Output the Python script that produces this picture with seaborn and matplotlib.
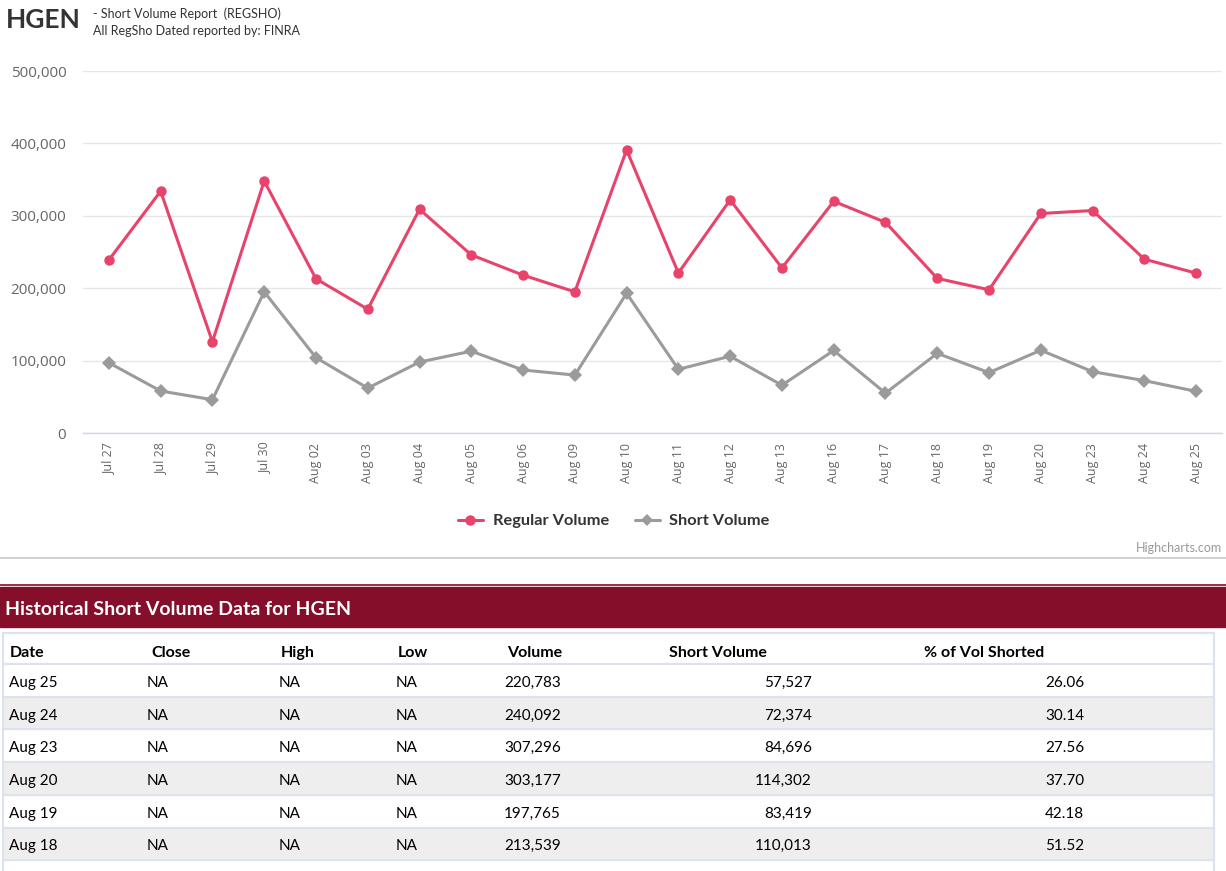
import numpy as np
import pandas as pd
import matplotlib
matplotlib.use("Agg")
import matplotlib.pyplot as plt
import seaborn as sns
from matplotlib.patches import Rectangle
from matplotlib.lines import Line2D

# =========================
# Datos
# =========================
dates = ["Jul 27", "Jul 28", "Jul 29", "Jul 30", "Aug 02", "Aug 03", "Aug 04",
         "Aug 05", "Aug 06", "Aug 09", "Aug 10", "Aug 11", "Aug 12", "Aug 13",
         "Aug 16", "Aug 17", "Aug 18", "Aug 19", "Aug 20", "Aug 23", "Aug 24",
         "Aug 25"]
regular_volume = [239000, 334000, 126000, 348000, 213000, 171000, 309000,
                  246000, 218000, 195000, 391000, 221000, 322000, 228000,
                  320000, 291000, 213539, 197765, 303177, 307296, 240092,
                  220783]
short_volume = [97000, 58000, 46000, 195000, 104000, 62000, 98000,
                113000, 87000, 80000, 193000, 88000, 106000, 66000,
                114000, 55000, 110013, 83419, 114302, 84696, 72374,
                57527]
y_ticks = [0, 100000, 200000, 300000, 400000, 500000]

table_cols = ["Date", "Close", "High", "Low", "Volume", "Short Volume", "% of Vol Shorted"]
n_rows = 6

RED = "#e8436b"
GRAY = "#9b9b9b"
MAROON = "#850e2b"
TXT = "#333333"

W, H = 1226, 871


def fx(x):
    return x / W


def fy(y):
    return 1 - y / H


sns.set_theme(style="white")
plt.rcParams["font.family"] = ["Lato", "DejaVu Sans"]

fig = plt.figure(figsize=(W / 100, H / 100), dpi=100)
fig.patch.set_facecolor("white")

# =========================
# Grafico de lineas
# =========================
ax = fig.add_axes([fx(83), fy(433), fx(1222) - fx(83), (433 - 71) / H])

df = pd.DataFrame({
    "date": dates * 2,
    "volume": regular_volume + short_volume,
    "serie": ["Regular Volume"] * len(dates) + ["Short Volume"] * len(dates),
})

sns.lineplot(data=df, x="date", y="volume", hue="serie", style="serie",
             palette={"Regular Volume": RED, "Short Volume": GRAY},
             markers={"Regular Volume": "o", "Short Volume": "D"},
             dashes=False, markersize=7.5, markeredgewidth=0,
             linewidth=2.2, ax=ax, legend=False, sort=False)

ax.set_xlim(-0.5, len(dates) - 0.5)
ax.set_ylim(0, 500000)
ax.set_yticks(y_ticks)
ax.set_yticklabels([f"{v:,}" for v in y_ticks])
ax.set_xlabel("")
ax.set_ylabel("")
ax.grid(axis="y", color="#e6e6e6", linewidth=1)
ax.set_axisbelow(True)
for s in ["top", "right", "left"]:
    ax.spines[s].set_visible(False)
ax.spines["bottom"].set_color("#ccd6eb")
ax.spines["bottom"].set_linewidth(1)
ax.tick_params(axis="y", length=0, pad=12, labelsize=11, labelcolor="#666666")
ax.tick_params(axis="x", length=0, pad=7, labelsize=9, labelcolor="#666666",
               rotation=90)
for lab in ax.get_yticklabels():
    lab.set_fontfamily(["Open Sans", "DejaVu Sans"])
for lab in ax.get_xticklabels():
    lab.set_fontfamily(["Open Sans", "DejaVu Sans"])

# Leyenda
handles = [
    Line2D([], [], color=RED, marker="o", markersize=7.5, linewidth=2.2,
           markeredgewidth=0),
    Line2D([], [], color=GRAY, marker="D", markersize=6, linewidth=2.2,
           markeredgewidth=0),
]
fig.legend(handles, ["Regular Volume", "Short Volume"], loc="center",
           bbox_to_anchor=(fx(614), fy(521)), ncol=2, frameon=False,
           handlelength=1.5, columnspacing=1.6, handletextpad=0.6,
           prop={"weight": "bold", "size": 11.8}, labelcolor=TXT)

# =========================
# Encabezado
# =========================
fig.text(fx(6), fy(20), "HGEN", fontsize=19, fontweight="bold", color=TXT,
         va="center", ha="left")
fig.text(fx(93), fy(14), "- Short Volume Report  (REGSHO)", fontsize=9,
         color=TXT, va="center", ha="left")
fig.text(fx(93), fy(31), "All RegSho Dated reported by: FINRA", fontsize=9,
         color=TXT, va="center", ha="left")
fig.text(fx(1222), fy(548), "Highcharts.com", fontsize=9, color="#999999",
         va="center", ha="right")

# separador gris
fig.add_artist(Line2D([0, 1], [fy(558), fy(558)], color="#c8c8c8", linewidth=1.2))

# =========================
# Tabla historica
# =========================
fig.add_artist(Line2D([0, 1], [fy(584.5), fy(584.5)], color=MAROON, linewidth=1.2))
fig.add_artist(Rectangle((0, fy(627)), 1, (627 - 587) / H, color=MAROON,
                         transform=fig.transFigure))
fig.text(fx(5), fy(608), "Historical Short Volume Data for HGEN", fontsize=14,
         fontweight="bold", color="white", va="center_baseline", ha="left")

# filas: ultimas fechas en orden inverso
rows_dates = dates[::-1][:n_rows]
rows_vol = regular_volume[::-1][:n_rows]
rows_short = short_volume[::-1][:n_rows]
rows_pct = [100 * s / v for s, v in zip(rows_short, rows_vol)]

tbl_left, tbl_right, tbl_top = 3, 1214, 633
header_h = 31
row_h = 32.7
border = "#dce3ee"

# fondo filas alternas
for i in range(n_rows):
    top = tbl_top + header_h + i * row_h
    if i % 2 == 1:
        fig.add_artist(Rectangle((fx(tbl_left), fy(top + row_h)),
                                 fx(tbl_right) - fx(tbl_left), row_h / H,
                                 color="#eeeeee", transform=fig.transFigure))
    fig.add_artist(Line2D([fx(tbl_left), fx(tbl_right)], [fy(top), fy(top)],
                          color=border, linewidth=1.5))
bottom = tbl_top + header_h + n_rows * row_h
fig.add_artist(Line2D([fx(tbl_left), fx(tbl_right)], [fy(tbl_top), fy(tbl_top)],
                      color=border, linewidth=1.5))
fig.add_artist(Line2D([fx(tbl_left), fx(tbl_right)], [fy(bottom), fy(bottom)],
                      color=border, linewidth=1.5))
for xb in (tbl_left, tbl_right):
    fig.add_artist(Line2D([fx(xb), fx(xb)], [fy(tbl_top), fy(H)],
                          color=border, linewidth=1.5))

header_x = [10, 151, 281, 398, 507, 669, 924]
for name, x in zip(table_cols, header_x):
    fig.text(fx(x), fy(651), name, fontsize=11.5, fontweight="bold",
             color="black", va="center_baseline", ha="left")

for i in range(n_rows):
    yc = tbl_top + header_h + i * row_h + row_h / 2 + 1
    kw = dict(fontsize=11, color="black", va="center_baseline")
    fig.text(fx(9), fy(yc), rows_dates[i], ha="left", **kw)
    fig.text(fx(147), fy(yc), "NA", ha="left", **kw)
    fig.text(fx(279), fy(yc), "NA", ha="left", **kw)
    fig.text(fx(396), fy(yc), "NA", ha="left", **kw)
    fig.text(fx(504), fy(yc), f"{rows_vol[i]:,}", ha="left", **kw)
    fig.text(fx(812), fy(yc), f"{rows_short[i]:,}", ha="right", **kw)
    fig.text(fx(1084), fy(yc), f"{rows_pct[i]:.2f}", ha="right", **kw)

fig.savefig("out.png", dpi=100)
